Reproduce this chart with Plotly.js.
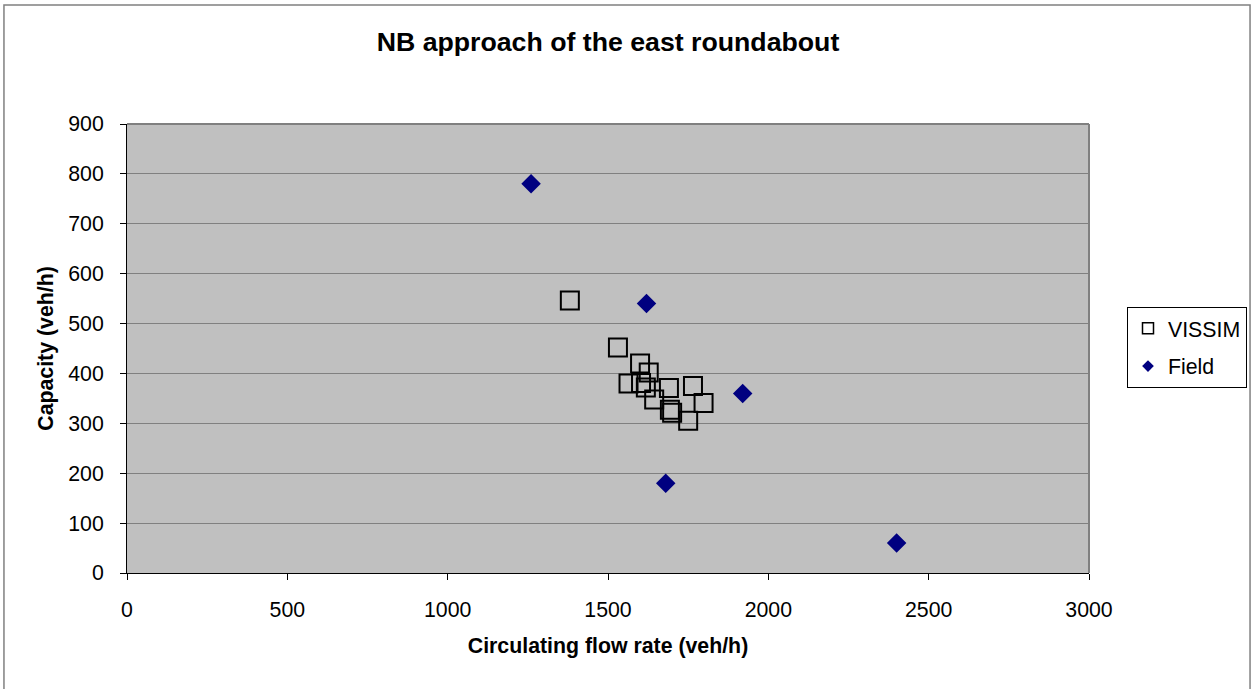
<!DOCTYPE html>
<html>
<head>
<meta charset="utf-8">
<script src="https://cdn.plot.ly/plotly-3.0.1.min.js"></script>
<style>html,body{margin:0;padding:0;background:#fff;}#chart{width:1254px;height:689px;}</style>
</head>
<body>
<div id="chart"></div>
<script>
const vissimFlow = [1381, 1531, 1600, 1627, 1564, 1603, 1618, 1690, 1765, 1644, 1798, 1693, 1700, 1750];
const vissimCap  = [546, 452, 420, 402, 380, 381, 372, 371, 375, 348, 341, 327, 321, 305];
const fieldFlow = [1260, 1620, 1920, 1680, 2400];
const fieldCap  = [780, 540, 360, 180, 60];
const seriesNames = ['VISSIM', 'Field'];

const FONT = 'Arial, "Liberation Sans", sans-serif';
const traces = [
  {x: vissimFlow, y: vissimCap, name: seriesNames[0], type: 'scatter', mode: 'markers', showlegend: false,
   marker: {symbol: 'square-open', size: 18, color: '#000000', line: {width: 2, color: '#000000'}}},
  {x: fieldFlow, y: fieldCap, name: seriesNames[1], type: 'scatter', mode: 'markers', showlegend: false,
   marker: {symbol: 'diamond', size: 15, color: '#000080', line: {width: 0}}},
  // legend entries (smaller symbols as in the reference legend)
  {x: [null], y: [null], name: seriesNames[0], type: 'scatter', mode: 'markers', legendgroup: 'a',
   marker: {symbol: 'square-open', size: 11, color: '#000000', line: {width: 1.5, color: '#000000'}}},
  {x: [null], y: [null], name: seriesNames[1], type: 'scatter', mode: 'markers', legendgroup: 'b',
   marker: {symbol: 'diamond', size: 9, color: '#000080', line: {width: 0}}}
];

const tickFont = {family: FONT, size: 21.3, color: '#000'};
const layout = {
  width: 1254, height: 689,
  margin: {l: 127, r: 165, t: 124, b: 116},
  paper_bgcolor: '#ffffff', plot_bgcolor: '#c0c0c0',
  font: tickFont,
  title: {text: '<b>NB approach of the east roundabout</b>', x: 0.5, xanchor: 'center', xref: 'paper',
          y: 1 - 42/689, yanchor: 'middle', font: {family: FONT, size: 26.7, color: '#000'}},
  xaxis: {range: [0, 3000], dtick: 500, tick0: 0, showgrid: false, zeroline: false, automargin: false,
          showline: true, linecolor: '#000', linewidth: 1, ticks: 'outside', ticklen: 6, tickcolor: '#000',
          tickfont: tickFont, ticklabelstandoff: 11,
          title: {text: '<b>Circulating flow rate (veh/h)</b>', font: {family: FONT, size: 21.3, color: '#000'}, standoff: 17}},
  yaxis: {range: [0, 900], dtick: 100, tick0: 0, showgrid: true, gridcolor: '#808080', gridwidth: 1, zeroline: false, automargin: false,
          showline: true, linecolor: '#000', linewidth: 1, ticks: 'outside', ticklen: 6, tickcolor: '#000',
          tickfont: tickFont, ticklabelstandoff: 12,
          title: {text: '<b>Capacity (veh/h)</b>', font: {family: FONT, size: 21.3, color: '#000'}, standoff: 8}},
  legend: {xref: 'container', yref: 'container', x: 1127/1254, xanchor: 'left', y: 1 - 347.5/689, yanchor: 'middle',
           bgcolor: '#ffffff', bordercolor: '#000', borderwidth: 1,
           font: {family: FONT, size: 21.3, color: '#000'}, itemwidth: 30, tracegroupgap: 7},
  showlegend: true,
  shapes: [
    {type: 'line', xref: 'paper', yref: 'paper', x0: 1, x1: 1, y0: 0, y1: 1, line: {color: '#808080', width: 2}},
    {type: 'line', xref: 'paper', yref: 'paper', x0: 0, x1: 1, y0: 1, y1: 1, line: {color: '#808080', width: 2}},
    {type: 'rect', xref: 'paper', yref: 'paper', x0: -0.1279, x1: 1.1674, y0: -0.28, y1: 1.265, line: {color: '#808080', width: 1.5}, fillcolor: 'rgba(0,0,0,0)', layer: 'below'}
  ]
};

Plotly.newPlot('chart', traces, layout, {displayModeBar: false, staticPlot: true});
</script>
</body>
</html>
